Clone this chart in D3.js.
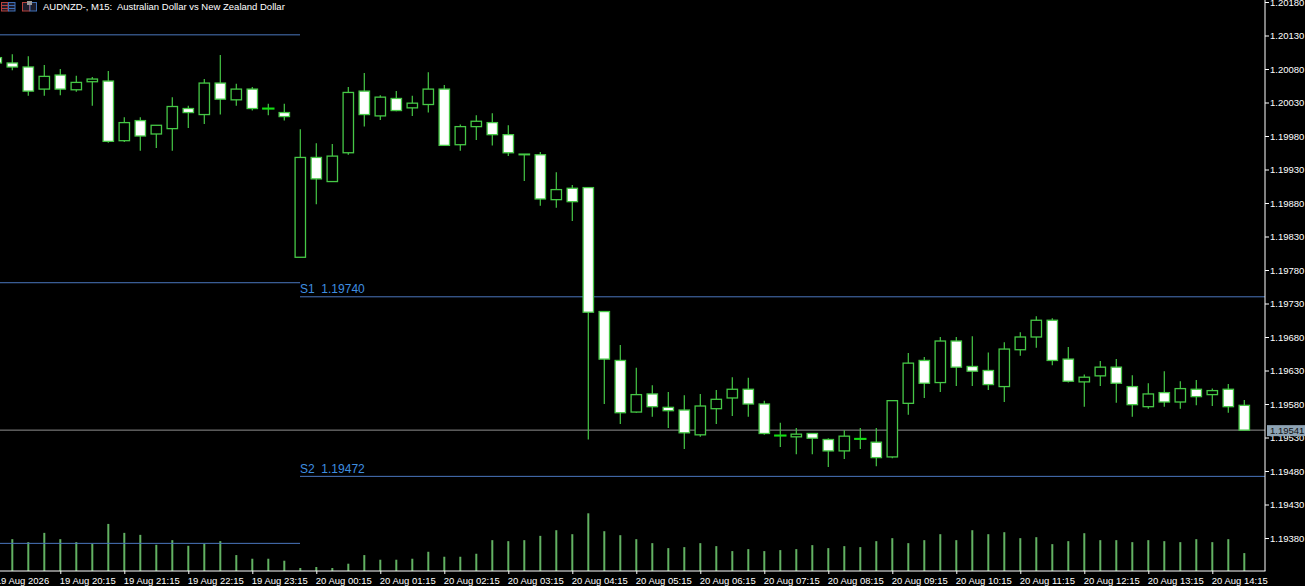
<!DOCTYPE html>
<html>
<head>
<meta charset="utf-8">
<title>AUDNZD M15</title>
<style>
html, body { margin: 0; padding: 0; background: #000; overflow: hidden; }
svg { display: block; }
text { font-family: "Liberation Sans", sans-serif; }
</style>
</head>
<body>
<script src="https://d3js.org/d3.v7.min.js"></script>
<script>
// candles, oldest first; the first one is cut off by the left edge
var open = [1.20097,1.20089,1.20083,1.20050,1.20071,1.20049,1.20061,1.20062,1.19973,1.20003,1.19983,1.19991,1.20021,1.20012,1.20059,1.20034,1.20050,1.20021,1.20015,1.19799,1.19948,1.19912,1.19955,1.20047,1.20010,1.20036,1.20022,1.20027,1.20050,1.19967,1.19994,1.20000,1.19982,1.19953,1.19952,1.19885,1.19902,1.19903,1.19718,1.19645,1.19568,1.19595,1.19575,1.19571,1.19534,1.19573,1.19589,1.19602,1.19580,1.19533,1.19531,1.19536,1.19527,1.19510,1.19528,1.19523,1.19501,1.19581,1.19645,1.19612,1.19674,1.19636,1.19630,1.19606,1.19661,1.19680,1.19705,1.19647,1.19613,1.19622,1.19635,1.19606,1.19576,1.19597,1.19583,1.19602,1.19594,1.19602,1.19578];
var high = [1.20098,1.20102,1.20099,1.20086,1.20080,1.20070,1.20068,1.20077,1.20008,1.20008,1.19996,1.20038,1.20025,1.20065,1.20101,1.20058,1.20053,1.20028,1.20028,1.19990,1.19969,1.19968,1.20053,1.20074,1.20041,1.20047,1.20040,1.20075,1.20056,1.19997,1.20011,1.20014,1.19996,1.19953,1.19956,1.19926,1.19907,1.19903,1.19718,1.19668,1.19634,1.19608,1.19598,1.19593,1.19595,1.19601,1.19620,1.19619,1.19585,1.19552,1.19544,1.19536,1.19529,1.19541,1.19544,1.19544,1.19585,1.19656,1.19650,1.19680,1.19680,1.19681,1.19657,1.19672,1.19687,1.19711,1.19708,1.19665,1.19624,1.19644,1.19647,1.19623,1.19611,1.19629,1.19614,1.19616,1.19603,1.19610,1.19586];
var low = [1.20088,1.20078,1.20040,1.20040,1.20041,1.20046,1.20025,1.19970,1.19971,1.19958,1.19962,1.19958,1.19992,1.19998,1.20012,1.20025,1.20018,1.20011,1.20003,1.19799,1.19878,1.19912,1.19952,1.19994,1.20004,1.20017,1.20010,1.20015,1.19965,1.19958,1.19974,1.19966,1.19950,1.19913,1.19876,1.19873,1.19853,1.19527,1.19580,1.19550,1.19567,1.19561,1.19544,1.19513,1.19531,1.19550,1.19562,1.19561,1.19534,1.19516,1.19505,1.19505,1.19486,1.19498,1.19513,1.19487,1.19499,1.19564,1.19589,1.19598,1.19607,1.19607,1.19601,1.19583,1.19652,1.19664,1.19638,1.19612,1.19576,1.19607,1.19582,1.19561,1.19573,1.19576,1.19573,1.19578,1.19577,1.19567,1.19541];
var close = [1.20089,1.20083,1.20047,1.20069,1.20050,1.20060,1.20065,1.19972,1.20000,1.19980,1.19996,1.20024,1.20015,1.20059,1.20035,1.20050,1.20021,1.20021,1.20009,1.19948,1.19916,1.19950,1.20045,1.20012,1.20038,1.20018,1.20029,1.20050,1.19966,1.19994,1.20002,1.19982,1.19955,1.19952,1.19886,1.19900,1.19882,1.19717,1.19647,1.19567,1.19594,1.19576,1.19570,1.19537,1.19577,1.19587,1.19602,1.19580,1.19536,1.19533,1.19535,1.19529,1.19510,1.19532,1.19528,1.19500,1.19585,1.19641,1.19611,1.19674,1.19635,1.19629,1.19609,1.19662,1.19680,1.19705,1.19645,1.19614,1.19620,1.19635,1.19611,1.19579,1.19595,1.19583,1.19603,1.19591,1.19600,1.19576,1.19541];
// tick volume, the pane has no scale so these are relative bar heights
var volume = [90,96,87,115,96,87,82,142,115,109,79,93,76,82,90,48,37,37,31,9,12,9,22,48,34,34,37,58,43,43,52,93,90,93,106,123,111,174,120,108,96,84,69,72,84,75,60,66,60,63,66,78,69,75,72,90,99,84,93,111,93,123,111,117,99,102,81,90,114,93,93,87,93,90,87,96,87,96,54];

var priceTicks = [1.20180,1.20130,1.20080,1.20030,1.19980,1.19930,1.19880,1.19830,1.19780,1.19730,1.19680,1.19630,1.19580,1.19530,1.19480,1.19430,1.19380];
var timeBars = [0,4,8,12,16,20,24,28,32,36,40,44,48,52,56,60,64,68,72,76];
var timeLabels = ["19 Aug 2026","19 Aug 20:15","19 Aug 21:15","19 Aug 22:15","19 Aug 23:15","20 Aug 00:15","20 Aug 01:15","20 Aug 02:15","20 Aug 03:15","20 Aug 04:15","20 Aug 05:15","20 Aug 06:15","20 Aug 07:15","20 Aug 08:15","20 Aug 09:15","20 Aug 10:15","20 Aug 11:15","20 Aug 12:15","20 Aug 13:15","20 Aug 14:15"];

var lastPrice = 1.19541;
var oldLevels = [1.20131, 1.19761, 1.19372]; // end where the new session starts
var newLevels = [["S1", 1.19740], ["S2", 1.19472]];

var width = 1305, height = 586;
var plotRight = 1265, plotBottom = 571;
var sessionX = 300;

var x = d3.scaleLinear().domain([0, 78]).range([-3.7, 1244.3]);
var y = d3.scaleLinear().domain([1.19380, 1.20180]).range([538, 2]);
var v = d3.scaleLinear().domain([0, 174]).range([plotBottom, 513.3]);

var svg = d3.select("body").append("svg")
  .attr("width", width)
  .attr("height", height);

var wickColor = "#46c846", lineBlue = "#4a76bd", labelBlue = "#3f8fe0";

// volumes
svg.append("g").selectAll("line")
  .data(volume)
  .enter().append("line")
  .attr("x1", function(d, i) { return x(i); })
  .attr("x2", function(d, i) { return x(i); })
  .attr("y1", plotBottom)
  .attr("y2", function(d) { return v(d); })
  .attr("stroke", "#62b162")
  .attr("stroke-width", 2);

// levels
svg.append("g").selectAll("line")
  .data(oldLevels)
  .enter().append("line")
  .attr("x1", 0).attr("x2", sessionX)
  .attr("y1", function(d) { return y(d); })
  .attr("y2", function(d) { return y(d); })
  .attr("stroke", lineBlue);

svg.append("g").selectAll("line")
  .data(newLevels)
  .enter().append("line")
  .attr("x1", sessionX).attr("x2", plotRight)
  .attr("y1", function(d) { return y(d[1]); })
  .attr("y2", function(d) { return y(d[1]); })
  .attr("stroke", lineBlue);

svg.append("g").selectAll("text")
  .data(newLevels)
  .enter().append("text")
  .attr("x", sessionX)
  .attr("y", function(d) { return y(d[1]) - 3.5; })
  .attr("fill", labelBlue)
  .style("font-size", "12px")
  .style("white-space", "pre")
  .text(function(d) { return d[0] + "  " + d[1].toFixed(5); });

// current price line goes under the candles
svg.append("line")
  .attr("x1", 0).attr("x2", plotRight)
  .attr("y1", y(lastPrice)).attr("y2", y(lastPrice))
  .attr("stroke", "#8e8e8e");

// candles
var candles = svg.append("g").selectAll("g")
  .data(d3.range(open.length))
  .enter().append("g");

candles.append("line")
  .attr("x1", function(i) { return x(i); })
  .attr("x2", function(i) { return x(i); })
  .attr("y1", function(i) { return y(high[i]); })
  .attr("y2", function(i) { return y(low[i]); })
  .attr("stroke", wickColor)
  .attr("stroke-width", 1.2);

// a rect of height 0 is not drawn at all, so dojis get a sliver
candles.append("rect")
  .attr("x", function(i) { return x(i) - 5.2; })
  .attr("width", 10.4)
  .attr("y", function(i) { return y(Math.max(open[i], close[i])); })
  .attr("height", function(i) { return Math.max(Math.abs(y(open[i]) - y(close[i])), 0.1); })
  .attr("fill", function(i) { return close[i] < open[i] ? "#fff" : "#000"; })
  .attr("stroke", function(i) { return open[i] == close[i] ? "#14e014" : wickColor; })
  .attr("stroke-width", function(i) { return open[i] == close[i] ? 2 : 1.3; });

// axes
var yAxis = d3.axisRight(y)
  .tickValues(priceTicks)
  .tickSize(4)
  .tickPadding(1)
  .tickFormat(d3.format(".5f"));

var gy = svg.append("g")
  .attr("transform", "translate(" + plotRight + ",0)")
  .call(yAxis);

var xAxis = d3.axisBottom(x)
  .tickValues(timeBars)
  .tickSize(3)
  .tickPadding(3)
  .tickFormat(function(d, i) { return timeLabels[i]; });

var gx = svg.append("g")
  .attr("transform", "translate(0," + plotBottom + ")")
  .call(xAxis);
gx.selectAll("text").attr("text-anchor", "start").attr("dx", -1);

svg.selectAll(".domain").remove();
svg.selectAll(".tick line").attr("stroke", "#fff");
svg.selectAll(".tick text").attr("fill", "#fff")
  .style("font-family", "'Liberation Sans', sans-serif")
  .style("font-size", "9.5px");

svg.append("line")
  .attr("x1", plotRight).attr("x2", plotRight)
  .attr("y1", 0).attr("y2", plotBottom)
  .attr("stroke", "#fff");
svg.append("line")
  .attr("x1", 0).attr("x2", plotRight + 0.5)
  .attr("y1", plotBottom).attr("y2", plotBottom)
  .attr("stroke", "#fff");

// last price tag
svg.append("rect")
  .attr("x", 1267).attr("y", y(lastPrice) - 5)
  .attr("width", 38).attr("height", 11)
  .attr("fill", "#8ea3b4");
svg.append("text")
  .attr("x", 1270).attr("y", y(lastPrice) + 3.5)
  .attr("fill", "#111")
  .style("font-size", "9.5px")
  .text(lastPrice.toFixed(5));

// title
svg.append("text")
  .attr("x", 43).attr("y", 10)
  .attr("fill", "#fff")
  .style("font-size", "9.5px")
  .style("white-space", "pre")
  .text("AUDNZD-, M15:  Australian Dollar vs New Zealand Dollar");

// the two little icons next to the title
var icons = svg.append("g");
function iconBox(bx, w, color, rows) {
  icons.append("rect").attr("x", bx).attr("y", 2.5).attr("width", w).attr("height", 8.5)
    .attr("fill", "#1c1c2a").attr("stroke", color);
  rows.forEach(function(ry) {
    icons.append("line").attr("x1", bx).attr("x2", bx + w).attr("y1", ry).attr("y2", ry).attr("stroke", color);
  });
}
iconBox(1.5, 6.5, "#b5413c", [5.5, 8.5]);
iconBox(8.5, 6.5, "#3f6fb5", [5.5, 8.5]);
iconBox(22.5, 7, "#b5413c", []);
iconBox(30, 6.5, "#3f6fb5", []);
icons.append("rect").attr("x", 27).attr("y", 1).attr("width", 5).attr("height", 4).attr("fill", "#9a9a9a");
</script>
</body>
</html>
